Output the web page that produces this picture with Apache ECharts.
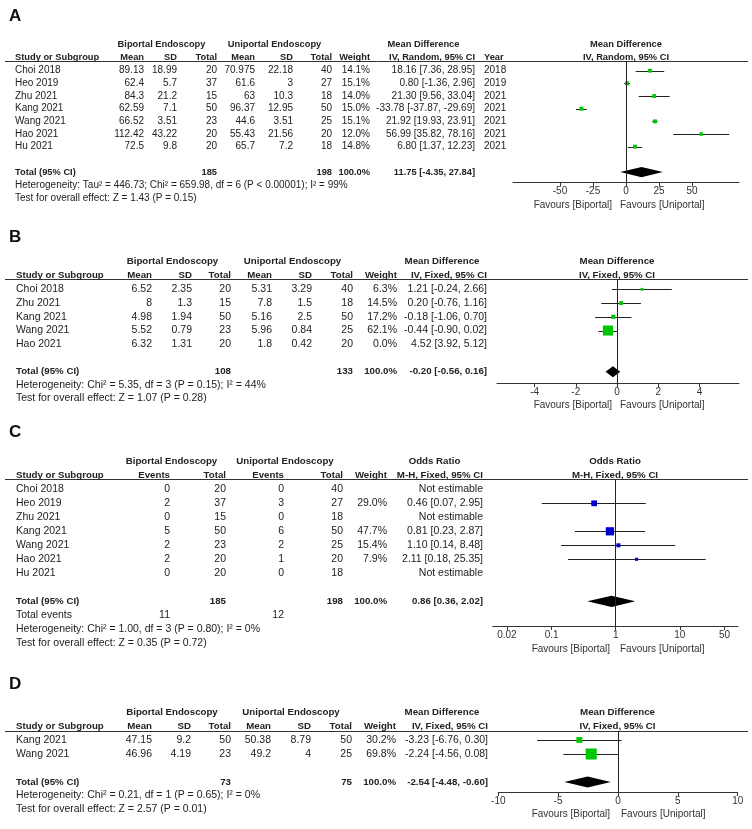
<!DOCTYPE html>
<html><head><meta charset="utf-8">
<script src="https://cdn.jsdelivr.net/npm/echarts@6/dist/echarts.min.js"></script>
<style>html,body{margin:0;padding:0;background:#fff}#c{width:752px;height:829px}</style>
</head><body><div id="c"></div><script>
// ================= DATA =================
// Panel A (Mean Difference, IV, Random)
const aStudy = ['Choi 2018','Heo 2019','Zhu 2021','Kang 2021','Wang 2021','Hao 2021','Hu 2021'];
const aBioMean = [89.13, 62.4, 84.3, 62.59, 66.52, 112.42, 72.5];
const aBioSD = [18.99, 5.7, 21.2, 7.1, 3.51, 43.22, 9.8];
const aBioN = [20, 37, 15, 50, 23, 20, 20];
const aUniMean = [70.975, 61.6, 63, 96.37, 44.6, 55.43, 65.7];
const aUniSD = [22.18, 3, 10.3, 12.95, 3.51, 21.56, 7.2];
const aUniN = [40, 27, 18, 50, 25, 20, 18];
const aWeight = [14.1, 15.1, 14.0, 15.0, 15.1, 12.0, 14.8];
const aMD = [18.16, 0.80, 21.30, -33.78, 21.92, 56.99, 6.80];
const aLo = [7.36, -1.36, 9.56, -37.87, 19.93, 35.82, 1.37];
const aHi = [28.95, 2.96, 33.04, -29.69, 23.91, 78.16, 12.23];
const aYear = [2018, 2019, 2021, 2021, 2021, 2021, 2021];
const aTotals = [185, 198];
const aPooled = [11.75, -4.35, 27.84];
const aTicks = [-50, -25, 0, 25, 50];
const aHet = 'Heterogeneity: Tau\u00b2 = 446.73; Chi\u00b2 = 659.98, df = 6 (P < 0.00001); I\u00b2 = 99%';
const aTest = 'Test for overall effect: Z = 1.43 (P = 0.15)';

// Panel B (Mean Difference, IV, Fixed)
const bStudy = ['Choi 2018','Zhu 2021','Kang 2021','Wang 2021','Hao 2021'];
const bBioMean = [6.52, 8, 4.98, 5.52, 6.32];
const bBioSD = [2.35, 1.3, 1.94, 0.79, 1.31];
const bBioN = [20, 15, 50, 23, 20];
const bUniMean = [5.31, 7.8, 5.16, 5.96, 1.8];
const bUniSD = [3.29, 1.5, 2.5, 0.84, 0.42];
const bUniN = [40, 18, 50, 25, 20];
const bWeight = [6.3, 14.5, 17.2, 62.1, 0.0];
const bMD = [1.21, 0.20, -0.18, -0.44, 4.52];
const bLo = [-0.24, -0.76, -1.06, -0.90, 3.92];
const bHi = [2.66, 1.16, 0.70, 0.02, 5.12];
const bTotals = [108, 133];
const bPooled = [-0.20, -0.56, 0.16];
const bTicks = [-4, -2, 0, 2, 4];
const bHet = 'Heterogeneity: Chi\u00b2 = 5.35, df = 3 (P = 0.15); I\u00b2 = 44%';
const bTest = 'Test for overall effect: Z = 1.07 (P = 0.28)';

// Panel C (Odds Ratio, M-H, Fixed)
const cStudy = ['Choi 2018','Heo 2019','Zhu 2021','Kang 2021','Wang 2021','Hao 2021','Hu 2021'];
const cBioEvents = [0, 2, 0, 5, 2, 2, 0];
const cBioN = [20, 37, 15, 50, 23, 20, 20];
const cUniEvents = [0, 3, 0, 6, 2, 1, 0];
const cUniN = [40, 27, 18, 50, 25, 20, 18];
const cWeight = [null, 29.0, null, 47.7, 15.4, 7.9, null];
const cOR = [null, 0.46, null, 0.81, 1.10, 2.11, null];
const cLo = [null, 0.07, null, 0.23, 0.14, 0.18, null];
const cHi = [null, 2.95, null, 2.87, 8.48, 25.35, null];
const cTotals = [185, 198];
const cTotalEvents = [11, 12];
const cPooled = [0.86, 0.36, 2.02];
const cTicks = [0.02, 0.1, 1, 10, 50];
const cTickLabels = ['0.02', '0.1', '1', '10', '50'];
const cHet = 'Heterogeneity: Chi\u00b2 = 1.00, df = 3 (P = 0.80); I\u00b2 = 0%';
const cTest = 'Test for overall effect: Z = 0.35 (P = 0.72)';

// Panel D (Mean Difference, IV, Fixed)
const dStudy = ['Kang 2021','Wang 2021'];
const dBioMean = [47.15, 46.96];
const dBioSD = [9.2, 4.19];
const dBioN = [50, 23];
const dUniMean = [50.38, 49.2];
const dUniSD = [8.79, 4];
const dUniN = [50, 25];
const dWeight = [30.2, 69.8];
const dMD = [-3.23, -2.24];
const dLo = [-6.76, -4.56];
const dHi = [0.30, 0.08];
const dTotals = [73, 75];
const dPooled = [-2.54, -4.48, -0.60];
const dTicks = [-10, -5, 0, 5, 10];
const dHet = 'Heterogeneity: Chi\u00b2 = 0.21, df = 1 (P = 0.65); I\u00b2 = 0%';
const dTest = 'Test for overall effect: Z = 2.57 (P = 0.01)';

// ================= LAYOUT =================
const FONT = 'Arial, "Liberation Sans", sans-serif';
const TXT = '#222';
const LA = {letter:'A', labelY:16, h1:44, h2:57, line:61, row0:70.7, rowH:12.67, totIdx:8, het:185, test:198,
  axisY:182.7, fav:205, plotL:513, plotR:739, xMin:-85.6, xMax:85.6, fs:10, fsb:9.3,
  cols:{study:15, bMean:144, bSD:177, bN:217, uMean:255, uSD:293, uN:332, w:370, ci:475, year:484},
  hdr:{bio:161.5, uni:274.5, title:423.5, plotC:626}, favR:612, favL:620};
const LB = {letter:'B', labelY:237.5, h1:261, h2:275, line:279, row0:289.3, rowH:13.75, totIdx:6, het:385, test:398,
  axisY:383, fav:405, plotL:497, plotR:739, xMin:-5.825, xMax:5.92, fs:10.5, fsb:9.7,
  cols:{study:16, bMean:152, bSD:192, bN:231, uMean:272, uSD:312, uN:353, w:397, ci:487},
  hdr:{bio:172.5, uni:292.5, title:442, plotC:617}, favR:612, favL:620};
const LC = {letter:'C', labelY:432.5, h1:461, h2:475, line:479, row0:489.3, rowH:14, totIdx:8, het:629.5, test:643.5,
  axisY:626, fav:649, plotL:492.7, plotR:738, xMin:0.012, xMax:81, fs:10.5, fsb:9.7,
  cols:{study:16, bEv:170, bN:226, uEv:284, uN:343, w:387, ci:483},
  hdr:{bio:171.5, uni:285, title:434.5, plotC:615}, favR:610, favL:620};
const LD = {letter:'D', labelY:684, h1:712, h2:726.5, line:731, row0:740, rowH:14, totIdx:3, het:795, test:809,
  axisY:792, fav:814, plotL:498.3, plotR:737.7, xMin:-10, xMax:10, fs:10.5, fsb:9.7,
  cols:{study:16, bMean:152, bSD:191, bN:231, uMean:271, uSD:311, uN:352, w:396, ci:488},
  hdr:{bio:172, uni:291, title:442, plotC:617.5}, favR:610, favL:621};

// ================= BUILD =================
const graphics = [], grids = [], xAxes = [], yAxes = [], series = [];
function T(x, y, s, align, bold, size, color) {
  return {type:'text', x:x, y:y, silent:true, z:10,
    style:{text:String(s), align:align, verticalAlign:'middle',
      font:(bold ? 'bold ' : '') + size + 'px ' + FONT, fill:color || TXT}};
}
function hline(y) {
  return {type:'line', silent:true, shape:{x1:5, y1:Math.round(y)+0.5, x2:748, y2:Math.round(y)+0.5},
    style:{stroke:'#333', lineWidth:1}};
}
function ci(e, l, h) { return e.toFixed(2) + ' [' + l.toFixed(2) + ', ' + h.toFixed(2) + ']'; }
function rowY(L, i) { return L.row0 + i * L.rowH; }
function boxSize(w) { return 2 + w * 0.13; }

function addPlot(L, kind, ticks, fmt, markers, pooled, color, zero) {
  const gi = grids.length;
  grids.push({left:L.plotL, top:L.line, width:L.plotR - L.plotL, height:L.axisY - L.line, containLabel:false, outerBoundsMode:'none'});
  yAxes.push({gridIndex:gi, type:'value', inverse:true, show:false,
    min:(L.line - L.row0) / L.rowH, max:(L.axisY - L.row0) / L.rowH});
  const xi = xAxes.length;
  const ax = {gridIndex:gi, type:kind, min:L.xMin, max:L.xMax, position:'bottom', splitLine:{show:false},
    axisLine:{show:true, onZero:false, lineStyle:{color:'#333', width:1}},
    axisTick:{show:true, customValues:ticks, length:4, lineStyle:{color:'#333'}},
    axisLabel:{show:true, customValues:ticks, margin:4, fontSize:10, fontFamily:FONT, color:'#333', formatter:fmt}};
  if (kind === 'log') ax.logBase = 10;
  xAxes.push(ax);
  series.push({type:'custom', xAxisIndex:xi, yAxisIndex:gi, clip:false, silent:true, z:3,
    encode:{x:[1, 2, 3], y:0}, data:markers,
    renderItem:function (p, api) {
      const r = api.value(0), e = api.value(1), lo = api.value(2), hi = api.value(3), w = api.value(4);
      const pl = api.coord([lo, r]), ph = api.coord([hi, r]), pe = api.coord([e, r]);
      const yy = Math.round(pe[1]) + 0.5, s = boxSize(w);
      return {type:'group', children:[
        {type:'line', shape:{x1:pl[0], y1:yy, x2:ph[0], y2:yy}, style:{stroke:'#222', lineWidth:1}},
        {type:'rect', shape:{x:pe[0] - s / 2, y:pe[1] - s / 2, width:s, height:s}, style:{fill:color}}
      ]};
    }});
  series.push({type:'custom', xAxisIndex:xi, yAxisIndex:gi, clip:false, silent:true, z:4,
    encode:{x:[1, 2, 3], y:0}, data:[[L.totIdx, pooled[0], pooled[1], pooled[2]]],
    renderItem:function (p, api) {
      const r = api.value(0), e = api.value(1), lo = api.value(2), hi = api.value(3);
      const a = api.coord([lo, r]), b = api.coord([e, r - 0.4]), c = api.coord([hi, r]), d = api.coord([e, r + 0.4]);
      return {type:'polygon', shape:{points:[a, b, c, d]}, style:{fill:'#000'}};
    },
    markLine:{silent:true, symbol:['none', 'none'], label:{show:false}, animation:false,
      lineStyle:{color:'#222', width:1, type:'solid'}, data:[{xAxis:zero}]}
  });
}

function headerCommon(L, effect, method) {
  graphics.push(T(9, L.labelY, L.letter, 'left', true, 17, '#111'));
  graphics.push(T(L.hdr.bio, L.h1, 'Biportal Endoscopy', 'center', true, L.fsb));
  graphics.push(T(L.hdr.uni, L.h1, 'Uniportal Endoscopy', 'center', true, L.fsb));
  graphics.push(T(L.hdr.title, L.h1, effect, 'center', true, L.fsb));
  graphics.push(T(L.hdr.plotC, L.h1, effect, 'center', true, L.fsb));
  graphics.push(T(L.cols.study, L.h2, 'Study or Subgroup', 'left', true, L.fsb));
  graphics.push(T(L.cols.ci, L.h2, method, 'right', true, L.fsb));
  graphics.push(T(L.hdr.plotC, L.h2, method, 'center', true, L.fsb));
  graphics.push(hline(L.line));
  graphics.push(T(L.favR, L.fav, 'Favours [Biportal]', 'right', false, 10, '#333'));
  graphics.push(T(L.favL, L.fav, 'Favours [Uniportal]', 'left', false, 10, '#333'));
}

function continuousPanel(L, method, st, bm, bs, bn, um, us, un, wt, md, lo, hi, totals, pooled, het, test, ticks, year) {
  const C = L.cols;
  headerCommon(L, 'Mean Difference', method);
  [['Mean', C.bMean], ['SD', C.bSD], ['Total', C.bN], ['Mean', C.uMean], ['SD', C.uSD], ['Total', C.uN], ['Weight', C.w]]
    .forEach(h => graphics.push(T(h[1], L.h2, h[0], 'right', true, L.fsb)));
  if (year) graphics.push(T(C.year, L.h2, 'Year', 'left', true, L.fsb));
  const markers = [];
  st.forEach((s, i) => {
    const y = rowY(L, i);
    graphics.push(T(C.study, y, s, 'left', false, L.fs));
    graphics.push(T(C.bMean, y, bm[i], 'right', false, L.fs));
    graphics.push(T(C.bSD, y, bs[i], 'right', false, L.fs));
    graphics.push(T(C.bN, y, bn[i], 'right', false, L.fs));
    graphics.push(T(C.uMean, y, um[i], 'right', false, L.fs));
    graphics.push(T(C.uSD, y, us[i], 'right', false, L.fs));
    graphics.push(T(C.uN, y, un[i], 'right', false, L.fs));
    graphics.push(T(C.w, y, wt[i].toFixed(1) + '%', 'right', false, L.fs));
    graphics.push(T(C.ci, y, ci(md[i], lo[i], hi[i]), 'right', false, L.fs));
    if (year) graphics.push(T(C.year, y, year[i], 'left', false, L.fs));
    if (wt[i] > 0) markers.push([i, md[i], lo[i], hi[i], wt[i]]);
  });
  const ty = rowY(L, L.totIdx);
  graphics.push(T(C.study, ty, 'Total (95% CI)', 'left', true, L.fsb));
  graphics.push(T(C.bN, ty, totals[0], 'right', true, L.fsb));
  graphics.push(T(C.uN, ty, totals[1], 'right', true, L.fsb));
  graphics.push(T(C.w, ty, '100.0%', 'right', true, L.fsb));
  graphics.push(T(C.ci, ty, ci(pooled[0], pooled[1], pooled[2]), 'right', true, L.fsb));
  graphics.push(T(C.study, L.het, het, 'left', false, L.fs));
  graphics.push(T(C.study, L.test, test, 'left', false, L.fs));
  addPlot(L, 'value', ticks, v => String(v), markers, pooled, '#00c800', 0);
}

continuousPanel(LA, 'IV, Random, 95% CI', aStudy, aBioMean, aBioSD, aBioN, aUniMean, aUniSD, aUniN, aWeight,
  aMD, aLo, aHi, aTotals, aPooled, aHet, aTest, aTicks, aYear);
continuousPanel(LB, 'IV, Fixed, 95% CI', bStudy, bBioMean, bBioSD, bBioN, bUniMean, bUniSD, bUniN, bWeight,
  bMD, bLo, bHi, bTotals, bPooled, bHet, bTest, bTicks, null);
continuousPanel(LD, 'IV, Fixed, 95% CI', dStudy, dBioMean, dBioSD, dBioN, dUniMean, dUniSD, dUniN, dWeight,
  dMD, dLo, dHi, dTotals, dPooled, dHet, dTest, dTicks, null);

// Panel C (binary)
(function () {
  const L = LC, C = L.cols;
  headerCommon(L, 'Odds Ratio', 'M-H, Fixed, 95% CI');
  [['Events', C.bEv], ['Total', C.bN], ['Events', C.uEv], ['Total', C.uN], ['Weight', C.w]]
    .forEach(h => graphics.push(T(h[1], L.h2, h[0], 'right', true, L.fsb)));
  const markers = [];
  cStudy.forEach((s, i) => {
    const y = rowY(L, i);
    graphics.push(T(C.study, y, s, 'left', false, L.fs));
    graphics.push(T(C.bEv, y, cBioEvents[i], 'right', false, L.fs));
    graphics.push(T(C.bN, y, cBioN[i], 'right', false, L.fs));
    graphics.push(T(C.uEv, y, cUniEvents[i], 'right', false, L.fs));
    graphics.push(T(C.uN, y, cUniN[i], 'right', false, L.fs));
    if (cWeight[i] != null) {
      graphics.push(T(C.w, y, cWeight[i].toFixed(1) + '%', 'right', false, L.fs));
      graphics.push(T(C.ci, y, ci(cOR[i], cLo[i], cHi[i]), 'right', false, L.fs));
      markers.push([i, cOR[i], cLo[i], cHi[i], cWeight[i]]);
    } else {
      graphics.push(T(C.ci, y, 'Not estimable', 'right', false, L.fs));
    }
  });
  const ty = rowY(L, L.totIdx);
  graphics.push(T(C.study, ty, 'Total (95% CI)', 'left', true, L.fsb));
  graphics.push(T(C.bN, ty, cTotals[0], 'right', true, L.fsb));
  graphics.push(T(C.uN, ty, cTotals[1], 'right', true, L.fsb));
  graphics.push(T(C.w, ty, '100.0%', 'right', true, L.fsb));
  graphics.push(T(C.ci, ty, ci(cPooled[0], cPooled[1], cPooled[2]), 'right', true, L.fsb));
  const ey = rowY(L, L.totIdx + 1);
  graphics.push(T(C.study, ey, 'Total events', 'left', false, L.fs));
  graphics.push(T(C.bEv, ey, cTotalEvents[0], 'right', false, L.fs));
  graphics.push(T(C.uEv, ey, cTotalEvents[1], 'right', false, L.fs));
  graphics.push(T(C.study, L.het, cHet, 'left', false, L.fs));
  graphics.push(T(C.study, L.test, cTest, 'left', false, L.fs));
  const fmt = v => { let best = 0; cTicks.forEach((t, k) => { if (Math.abs(Math.log10(t) - Math.log10(v)) < Math.abs(Math.log10(cTicks[best]) - Math.log10(v))) best = k; }); return cTickLabels[best]; };
  addPlot(L, 'log', cTicks, fmt, markers, cPooled, '#0000cc', 1);
})();

const chart = echarts.init(document.getElementById('c'), null, {renderer:'canvas'});
chart.setOption({
  animation:false,
  backgroundColor:'#fff',
  grid:grids, xAxis:xAxes, yAxis:yAxes, series:series,
  graphic:{elements:graphics}
});
</script></body></html>
